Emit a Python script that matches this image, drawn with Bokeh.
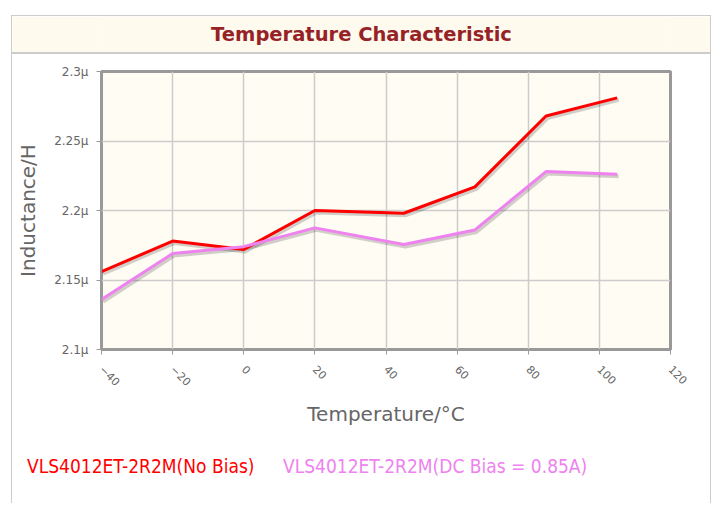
import math
from bokeh.plotting import figure
from bokeh.models import Range1d, FixedTicker, Label, Div
from bokeh.layouts import column
from bokeh.embed import file_html
from bokeh.resources import INLINE

# ---- data ----
temps = [-40, -20, 0, 20, 45, 65, 85, 105]
no_bias = [2.156, 2.178, 2.172, 2.200, 2.198, 2.217, 2.268, 2.281]
dc_bias = [2.136, 2.169, 2.174, 2.1875, 2.1755, 2.186, 2.228, 2.226]
series_names = ["VLS4012ET-2R2M(No Bias)", "VLS4012ET-2R2M(DC Bias = 0.85A)"]
series_colors = ["#ff0000", "#ee82ee"]
x_ticks = [-40, -20, 0, 20, 40, 60, 80, 100, 120]
y_ticks = [2.1, 2.15, 2.2, 2.25, 2.3]
y_tick_labels = ["2.1μ", "2.15μ", "2.2μ", "2.25μ", "2.3μ"]
title_text = "Temperature Characteristic"
x_title = "Temperature/°C"
y_title = "Inductance/H"

FONT = "DejaVu Sans"
FONT_C = "DejaVu Sans Condensed"
W = 698
ML, MR = 89, 40          # left / right borders around the plot frame
FL, FR = ML, W - MR       # frame span in box pixels

# ---- header band ----
head = figure(width=W, height=36, output_backend="svg", toolbar_location=None,
              x_range=Range1d(FL, FR), y_range=Range1d(0, 1),
              min_border_left=ML, min_border_right=MR, min_border_top=0, min_border_bottom=0)
head.axis.visible = False
head.grid.visible = False
head.outline_line_color = None
head.background_fill_color = "#fefaee"
head.border_fill_color = "#fefaee"
head.add_layout(Label(x=W / 2, y=0.5, text=title_text, text_align="center", text_baseline="middle",
                      text_font=FONT, text_font_style="bold", text_font_size="19.5px",
                      text_color="#962226"))

sep = Div(width=W, height=2, margin=0, styles={"background-color": "#cccccc"})

# ---- main chart ----
p = figure(width=W, height=393, output_backend="svg", toolbar_location=None,
           x_range=Range1d(-40, 120), y_range=Range1d(2.1, 2.3),
           min_border_left=ML, min_border_right=MR, min_border_top=17, min_border_bottom=98)
p.background_fill_color = "#fffcf3"
p.border_fill_color = "white"
p.outline_line_color = "#999999"
p.outline_line_width = 3

# shadows (offset derived from data scale)
dx = 1.5 * 160 / 569
dy = 2.0 * 0.2 / 278
for ys in (no_bias, dc_bias):
    p.line([t + dx for t in temps], [v - dy for v in ys], line_color="#000000",
           line_alpha=0.18, line_width=4)
for ys, c in zip((no_bias, dc_bias), series_colors):
    p.line(temps, ys, line_color=c, line_width=3)

p.xaxis.ticker = FixedTicker(ticks=x_ticks)
p.yaxis.ticker = FixedTicker(ticks=y_ticks)
p.yaxis.major_label_overrides = {t: l for t, l in zip(y_ticks, y_tick_labels)}
p.xaxis.major_label_orientation = -math.pi / 4
for ax in (p.xaxis, p.yaxis):
    ax.axis_line_color = "#999999"
    ax.axis_line_width = 1
    ax.major_tick_line_color = "#999999"
    ax.major_tick_out = 5
    ax.major_tick_in = 0
    ax.minor_tick_line_color = None
    ax.major_label_text_font = FONT
    ax.major_label_text_color = "#666666"
    ax.axis_label_text_font = FONT
    ax.axis_label_text_font_size = "20px"
    ax.axis_label_text_font_style = "normal"
    ax.axis_label_text_color = "#666666"
p.xaxis.major_label_text_font_size = "11px"
p.yaxis.major_label_text_font_size = "12px"
p.xaxis.axis_label = x_title
p.yaxis.axis_label = y_title
p.xaxis.major_label_standoff = 13
p.xaxis.axis_label_standoff = 9
p.yaxis.major_label_standoff = 8
p.yaxis.axis_label_standoff = 11
p.grid.grid_line_color = "#cccccc"
p.grid.grid_line_width = 1.5

# ---- legend row (text only, coloured per series) ----
leg_x = [15, 271]
spans = "".join(
    f'<span style="position:absolute; left:{lx}px; top:8px; color:{c}; white-space:nowrap;">{name}</span>'
    for name, c, lx in zip(series_names, series_colors, leg_x))
leg = Div(text=f'<div style="position:relative; width:{W}px; height:56px; font-family:\'{FONT_C}\'; '
               f'font-size:19px; line-height:23px;">{spans}</div>',
          width=W, height=56, margin=0)

layout = column(head, sep, p, leg, spacing=0, margin=(15, 0, 0, 11),
                styles={"border-left": "1px solid #cccccc", "border-right": "1px solid #cccccc",
                        "border-top": "1px solid #cccccc"})

open("out.html", "w").write(file_html(layout, INLINE))
